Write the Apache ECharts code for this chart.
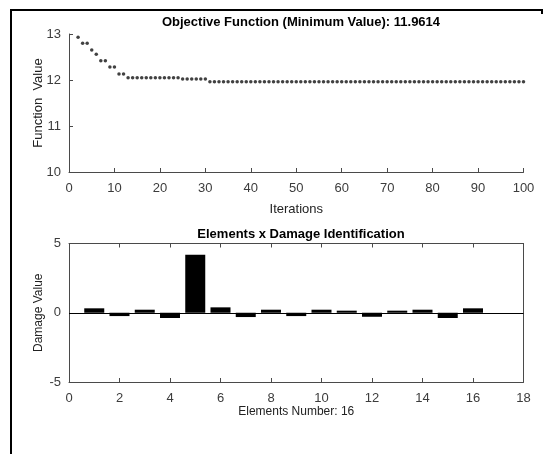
<!DOCTYPE html>
<html><head><meta charset="utf-8">
<script src="https://cdn.jsdelivr.net/npm/echarts@6/dist/echarts.min.js"></script>
<style>html,body{margin:0;padding:0;background:#fff}#c{width:544px;height:454px}</style>
</head><body><div id="c"></div>
<script>
var iterations = [2, 3, 4, 5, 6, 7, 8, 9, 10, 11, 12, 13, 14, 15, 16, 17, 18, 19, 20,
  21, 22, 23, 24, 25, 26, 27, 28, 29, 30, 31, 32, 33, 34, 35, 36, 37, 38, 39, 40,
  41, 42, 43, 44, 45, 46, 47, 48, 49, 50, 51, 52, 53, 54, 55, 56, 57, 58, 59, 60,
  61, 62, 63, 64, 65, 66, 67, 68, 69, 70, 71, 72, 73, 74, 75, 76, 77, 78, 79, 80,
  81, 82, 83, 84, 85, 86, 87, 88, 89, 90, 91, 92, 93, 94, 95, 96, 97, 98, 99, 100];
var objValues = [12.93, 12.80, 12.80, 12.65, 12.56, 12.42, 12.42, 12.28, 12.28, 12.13, 12.13,
  12.05, 12.05, 12.05, 12.05, 12.05, 12.05, 12.05, 12.05, 12.05, 12.05, 12.05, 12.05,
  12.02, 12.02, 12.02, 12.02, 12.02, 12.02,
  11.9614, 11.9614, 11.9614, 11.9614, 11.9614, 11.9614, 11.9614, 11.9614, 11.9614, 11.9614,
  11.9614, 11.9614, 11.9614, 11.9614, 11.9614, 11.9614, 11.9614, 11.9614, 11.9614, 11.9614,
  11.9614, 11.9614, 11.9614, 11.9614, 11.9614, 11.9614, 11.9614, 11.9614, 11.9614, 11.9614,
  11.9614, 11.9614, 11.9614, 11.9614, 11.9614, 11.9614, 11.9614, 11.9614, 11.9614, 11.9614,
  11.9614, 11.9614, 11.9614, 11.9614, 11.9614, 11.9614, 11.9614, 11.9614, 11.9614, 11.9614,
  11.9614, 11.9614, 11.9614, 11.9614, 11.9614, 11.9614, 11.9614, 11.9614, 11.9614, 11.9614,
  11.9614, 11.9614, 11.9614, 11.9614, 11.9614, 11.9614, 11.9614, 11.9614, 11.9614, 11.9614];
var elements = [1, 2, 3, 4, 5, 6, 7, 8, 9, 10, 11, 12, 13, 14, 15, 16];
var damage = [0.32, -0.24, 0.22, -0.38, 4.18, 0.39, -0.31, 0.22, -0.24, 0.22, 0.15, -0.29, 0.15, 0.22, -0.38, 0.32];

var font = 'Liberation Sans, Arial, sans-serif';
var axCol = '#4a4a4a';
var lblCol = '#3c3c3c';
function axisBase(extra) {
  var a = {
    type: 'value',
    axisLine: {show: true, onZero: false, lineStyle: {color: axCol, width: 1}},
    axisTick: {show: true, inside: true, length: 4, lineStyle: {color: axCol}},
    axisLabel: {color: lblCol, fontFamily: font, fontSize: 13, margin: 8},
    splitLine: {show: false},
    nameTextStyle: {color: '#222', fontFamily: font, fontSize: 12}
  };
  for (var key in extra) a[key] = extra[key];
  return a;
}
var xLbl = {color: lblCol, fontFamily: font, fontSize: 13, margin: 10};

var chart = echarts.init(document.getElementById('c'), null, {renderer: 'canvas'});
chart.setOption({
  animation: false,
  backgroundColor: '#fff',
  title: [
    {text: 'Objective Function (Minimum Value): 11.9614', left: 296, top: 11, textAlign: 'center',
     textStyle: {fontFamily: font, fontSize: 13, fontWeight: 'bold', color: '#000'}},
    {text: 'Elements x Damage Identification', left: 296, top: 223, textAlign: 'center',
     textStyle: {fontFamily: font, fontSize: 13, fontWeight: 'bold', color: '#000'}}
  ],
  grid: [
    {left: 69, right: 20.5, top: 34, height: 138},
    {left: 69, right: 20.5, top: 243.5, height: 138.5}
  ],
  xAxis: [
    axisBase({gridIndex: 0, min: 0, max: 100, interval: 10, axisLabel: xLbl,
      name: 'Iterations', nameLocation: 'middle', nameGap: 31,
      nameTextStyle: {color: '#222', fontFamily: font, fontSize: 13}}),
    axisBase({gridIndex: 1, min: 0, max: 18, interval: 2, axisLabel: xLbl,
      name: 'Elements Number: 16', nameLocation: 'middle', nameGap: 24}),
    axisBase({gridIndex: 1, min: 0, max: 18, interval: 2, position: 'top', axisLabel: {show: false}})
  ],
  yAxis: [
    axisBase({gridIndex: 0, min: 10, max: 13, interval: 1, name: 'Function  Value', nameLocation: 'middle',
      nameGap: 24, nameMoveOverlap: false,
      nameTextStyle: {color: '#222', fontFamily: font, fontSize: 13}}),
    axisBase({gridIndex: 1, min: -5, max: 5, interval: 5, name: 'Damage Value', nameLocation: 'middle',
      nameGap: 24, nameMoveOverlap: false}),
    axisBase({gridIndex: 1, min: -5, max: 5, interval: 5, position: 'right', axisTick: {show: false}, axisLabel: {show: false}})
  ],
  series: [
    {type: 'scatter', xAxisIndex: 0, yAxisIndex: 0, symbol: 'circle', symbolSize: 3.5,
     itemStyle: {color: '#111'},
     data: iterations.map(function (it, i) { return [it, objValues[i]]; })},
    {type: 'bar', xAxisIndex: 1, yAxisIndex: 1, barWidth: 20,
     itemStyle: {color: '#000'},
     data: elements.map(function (e, i) { return [e, damage[i]]; }),
     markLine: {silent: true, symbol: 'none', label: {show: false},
       lineStyle: {color: '#000', width: 1, type: 'solid'}, data: [{yAxis: 0}]}}
  ],
  graphic: [
    {type: 'line', shape: {x1: 11, y1: 10, x2: 11, y2: 454}, style: {stroke: '#000', lineWidth: 2}},
    {type: 'line', shape: {x1: 10, y1: 10, x2: 543, y2: 10}, style: {stroke: '#000', lineWidth: 2}},
    {type: 'line', shape: {x1: 542, y1: 10, x2: 542, y2: 14}, style: {stroke: '#000', lineWidth: 2}}
  ]
});
</script></body></html>
